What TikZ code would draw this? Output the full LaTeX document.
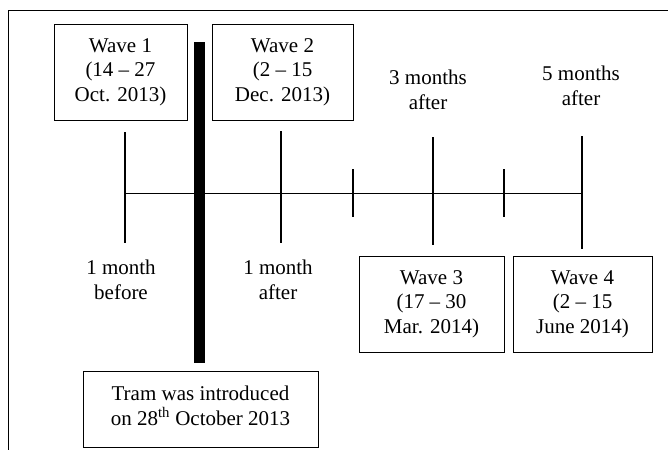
\documentclass[tikz,border=0pt]{standalone}
\usepackage{fontspec}
\setmainfont{Liberation Serif}
\begin{document}
\begin{tikzpicture}[x=1pt,y=-1pt,
  lbl/.style={align=center,inner sep=0pt,font=\fontsize{21}{24.5}\selectfont},
  wavebox/.style={lbl,draw,line width=1pt,minimum height=96pt},
  tick/.style={line width=1.2pt},
  thin/.style={line width=1pt}]
\useasboundingbox (0,0) rectangle (668,450);
% frame
\draw[thin] (668,10) -- (8,10) -- (8,450);
% boxes
\node[wavebox,minimum width=133pt] (w1) at (120.5,72) {Wave 1\\(14 -- 27\\Oct. 2013)};
\node[wavebox,minimum width=141pt] (w2) at (282.5,72) {Wave 2\\(2 -- 15\\Dec. 2013)};
\node[wavebox,minimum width=145pt] (w3) at (431.5,304) {Wave 3\\(17 -- 30\\Mar. 2014)};
\node[wavebox,minimum width=139pt] (w4) at (582.5,304) {Wave 4\\(2 -- 15\\June 2014)};
\node[wavebox,minimum width=235pt,minimum height=76pt,text depth=7pt] (tram) at (200.5,409) {Tram was introduced\\on 28\textsuperscript{th} October 2013};
% labels
\node[lbl] (l3) at (428,90) {3 months\\after};
\node[lbl] (l5) at (581,86) {5 months\\after};
\node[lbl] (lb) at (121,280) {1 month\\before};
\node[lbl] (la) at (278,280) {1 month\\after};
% timeline
\coordinate (s) at (125,193);
\coordinate (e) at (582,193);
\draw[thin] (s) -- (e);
\draw[tick] (125,132) -- (125,243);
\draw[tick] (281,131) -- (281,243);
\draw[tick] (353,169) -- (353,217);
\draw[tick] (433,137) -- (433,245);
\draw[tick] (504,169) -- (504,217);
\draw[tick] (582,136) -- (582,249);
% tram bar
\fill (194,42) rectangle (205,363);
\end{tikzpicture}
\end{document}
